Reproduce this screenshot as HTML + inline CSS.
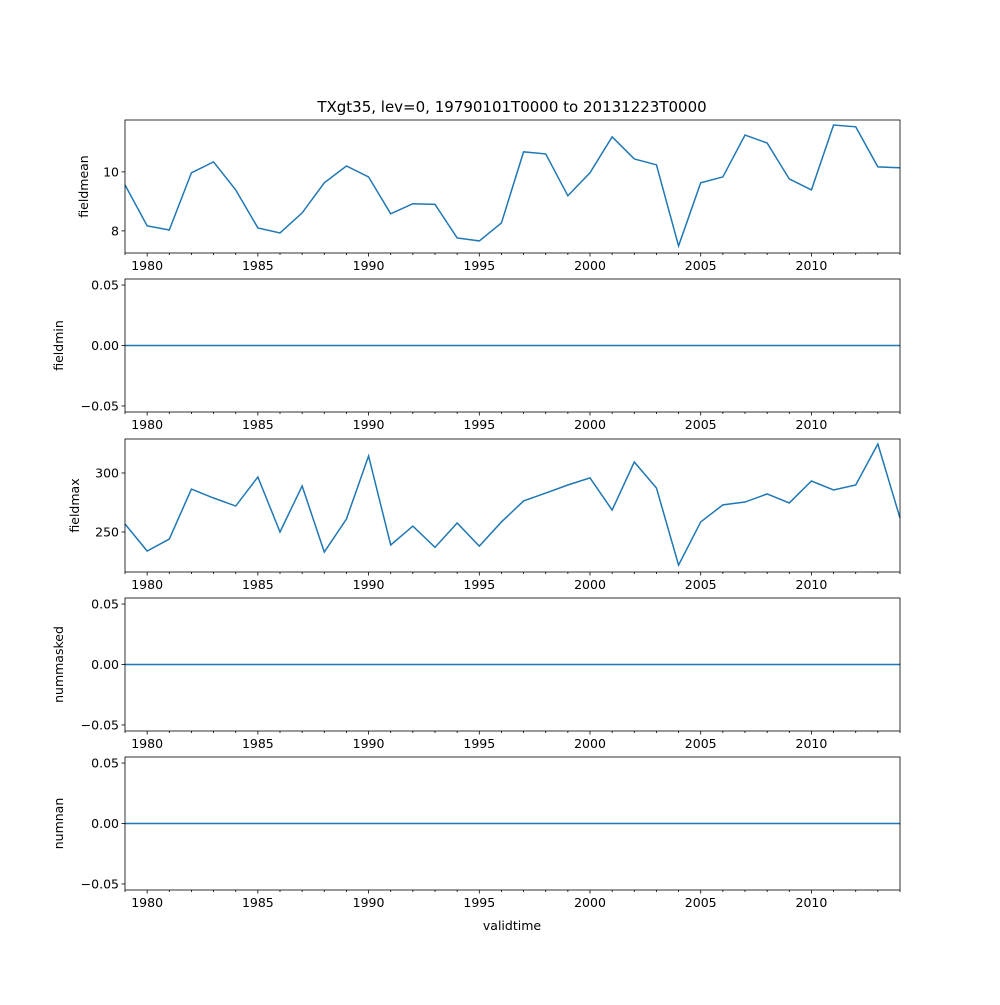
<!DOCTYPE html>
<html><head><meta charset="utf-8"><style>
body{margin:0;background:#fff;font-family:"Liberation Sans","DejaVu Sans",sans-serif}
text{font-family:"DejaVu Sans","Liberation Sans",sans-serif;font-size:12.5px;fill:#000}
</style></head><body>
<svg id="fig" width="1000" height="1000">
<rect width="1000" height="1000" fill="#fff"/>
<text x="512" y="112" text-anchor="middle" style="font-size:15px">TXgt35, lev=0, 19790101T0000 to 20131223T0000</text>
<text x="512" y="930" text-anchor="middle">validtime</text>
</svg>
<script>
const years=[];for(let y=1979;y<=2014;y++)years.push(y);
const fieldmean=[9.56,8.17,8.03,9.97,10.34,9.39,8.1,7.93,8.61,9.63,10.2,9.83,8.58,8.92,8.9,7.76,7.66,8.27,10.68,10.61,9.19,9.97,11.19,10.44,10.24,7.49,9.63,9.83,11.25,10.98,9.76,9.39,11.59,11.53,10.17,10.14];
const fieldmin=years.map(()=>0);
const fieldmax=[256.8,233.9,244,286.4,278.8,272,296.6,250,289,233,261,314.4,239,255,237,257.6,238,258.5,276.3,283,289.8,295.8,268.6,309.3,287.3,222,258.5,273,275.4,282.2,274.6,293.2,285.6,289.8,324.6,261.9];
const nummasked=years.map(()=>0);
const numnan=years.map(()=>0);
const xTicks=[1980,1985,1990,1995,2000,2005,2010];
const panels=[
 {name:'fieldmean',data:fieldmean,top:120,ymin:7.25,ymax:11.76,ticks:[8,10],lab:['8','10'],tx:88},
 {name:'fieldmin',data:fieldmin,top:279,ymin:-0.055,ymax:0.055,ticks:[-0.05,0,0.05],lab:['−0.05','0.00','0.05'],tx:63},
 {name:'fieldmax',data:fieldmax,top:439,ymin:216.1,ymax:328.8,ticks:[250,300],lab:['250','300'],tx:79},
 {name:'nummasked',data:nummasked,top:598,ymin:-0.055,ymax:0.055,ticks:[-0.05,0,0.05],lab:['−0.05','0.00','0.05'],tx:63},
 {name:'numnan',data:numnan,top:757,ymin:-0.055,ymax:0.055,ticks:[-0.05,0,0.05],lab:['−0.05','0.00','0.05'],tx:63}
];
const L=125,R=900,H=133,NS='http://www.w3.org/2000/svg',svg=document.getElementById('fig');
const xs=y=>L+(y-1979)/(2014-1979)*(R-L);
function mk(t,a,p){const e=document.createElementNS(NS,t);for(const k in a)e.setAttribute(k,a[k]);(p||svg).appendChild(e);return e;}
panels.forEach(p=>{
 const g=mk('g',{});
 
 
 const ys=v=>p.top+H-(v-p.ymin)/(p.ymax-p.ymin)*H;
 const pts=p.data.map((v,i)=>xs(years[i]).toFixed(2)+','+ys(v).toFixed(2)).join(' ');
 const ln=mk('polyline',{points:pts,fill:'none',stroke:'#1f77b4','stroke-width':1.5},g);
 
 
 years.forEach(y=>{const x=xs(y);const major=xTicks.includes(y);mk('line',{x1:x,x2:x,y1:p.top+H,y2:p.top+H+(major?3.5:2),stroke:'#000','stroke-width':0.8},g);});
 xTicks.forEach(y=>{const t=mk('text',{x:xs(y),y:p.top+H+17,'text-anchor':'middle'},g);t.textContent=y;});
 p.ticks.forEach((v,i)=>{const y=ys(v);mk('line',{x1:L-3.5,x2:L,y1:y,y2:y,stroke:'#000','stroke-width':0.8},g);const t=mk('text',{x:L-6,y:y+4.5,'text-anchor':'end'},g);t.textContent=p.lab[i];});
 mk('rect',{x:L,y:p.top,width:R-L,height:H,fill:'none',stroke:'#000','stroke-width':0.8},g);
 const yt=mk('text',{x:0,y:0,'text-anchor':'middle',transform:`translate(${p.tx},${p.top+H/2}) rotate(-90)`},g);
 
 
 yt.textContent=p.name;
});
</script>
</body></html>
